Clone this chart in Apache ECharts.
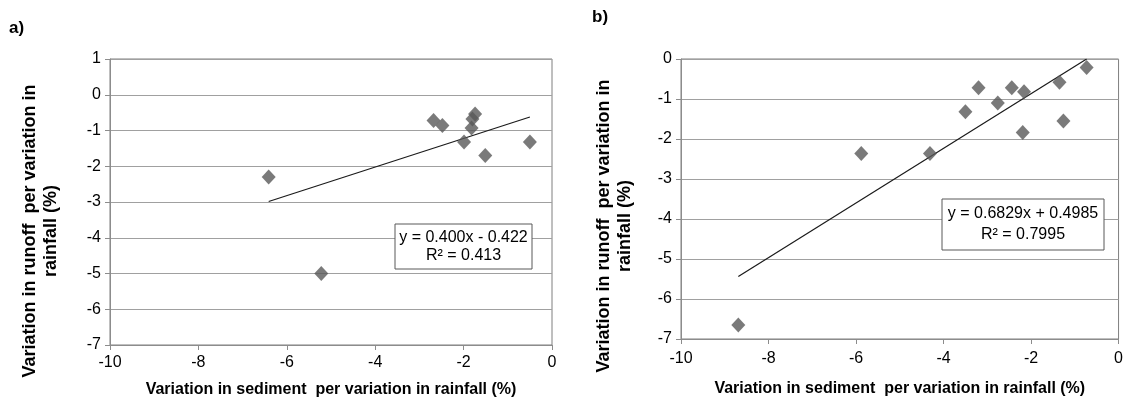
<!DOCTYPE html>
<html>
<head>
<meta charset="utf-8">
<script src="https://cdn.jsdelivr.net/npm/echarts@6/dist/echarts.min.js"></script>
<style>
  html, body { margin: 0; padding: 0; background: #fff; }
  #main { width: 1126px; height: 403px; }
</style>
</head>
<body>
<div id="main"></div>
<script>
// panel a) values
var sedimentA = [-6.41, -5.22, -2.68, -2.48, -1.99, -1.82, -1.80, -1.74, -1.51, -0.50];
var runoffA = [-2.30, -5.00, -0.72, -0.86, -1.32, -0.93, -0.68, -0.54, -1.70, -1.32];
var trendA = [0.400, -0.422]; // slope, intercept
var eqTextA = ['y = 0.400x - 0.422', 'R\u00b2 = 0.413'];

// panel b)
var sedimentB = [-8.69, -5.88, -4.31, -3.50, -3.20, -2.76, -2.44, -2.16, -2.19, -1.35, -1.26, -0.73];
var runoffB = [-6.65, -2.36, -2.36, -1.32, -0.72, -1.10, -0.72, -0.82, -1.84, -0.58, -1.55, -0.21];
var trendB = [0.6829, 0.4985];
var eqTextB = ['y = 0.6829x + 0.4985', 'R\u00b2 = 0.7995'];

var xTitle = 'Variation in sediment  per variation in rainfall (%)';
var yTitle = ['Variation in runoff  per variation in', 'rainfall (%)'];

var narrow = '"Liberation Sans Narrow", "Arial Narrow", "Liberation Sans", Arial, sans-serif';
var wide = '"Liberation Sans", Arial, sans-serif';

function pairs(xs, ys) {
  var out = [];
  for (var i = 0; i < xs.length; i++) out.push([xs[i], ys[i]]);
  return out;
}

function trendLine(xs, coef) {
  var lo = Math.min.apply(null, xs);
  var hi = Math.max.apply(null, xs);
  return [[lo, coef[0] * lo + coef[1]], [hi, coef[0] * hi + coef[1]]];
}

function xAxisOf(idx, gap, margin) {
  return {
    gridIndex: idx, type: 'value', min: -10, max: 0, interval: 2,
    name: xTitle, nameLocation: 'middle', nameGap: gap,
    nameTextStyle: { fontFamily: narrow, fontWeight: 'bold', fontSize: 16, color: '#000' },
    axisLine: { onZero: false, lineStyle: { color: '#8c8c8c', width: 1 } },
    axisTick: { show: true, length: 5, lineStyle: { color: '#8c8c8c' } },
    axisLabel: { fontFamily: narrow, fontSize: 16, color: '#000', margin: margin },
    splitLine: { show: false }
  };
}

function yAxisOf(idx, max) {
  return {
    gridIndex: idx, type: 'value', min: -7, max: max, interval: 1,
    axisLine: { onZero: false, lineStyle: { color: '#8c8c8c', width: 1 } },
    axisTick: { show: true, length: 5, lineStyle: { color: '#8c8c8c' } },
    axisLabel: { fontFamily: narrow, fontSize: 16, color: '#000', margin: 9 },
    splitLine: { show: true, lineStyle: { color: '#a0a0a0', width: 1 } }
  };
}

function eqBox(x, y, w, h, lines, lh) {
  return [
    { type: 'rect', z: 100, shape: { x: x, y: y, width: w, height: h },
      style: { fill: '#fff', stroke: '#595959', lineWidth: 1 } },
    { type: 'text', z: 101, x: x + w / 2, y: y + h / 2,
      style: { text: lines.join('\n'), font: '16px ' + narrow, fill: '#000',
               align: 'center', verticalAlign: 'middle', lineHeight: lh } }
  ];
}

function yTitleText(x, y) {
  return {
    type: 'text', x: x, y: y, rotation: Math.PI / 2,
    style: { text: yTitle.join('\n'), font: 'bold 18px ' + wide, fill: '#000',
             align: 'center', verticalAlign: 'middle', lineHeight: 21 }
  };
}

var diamond = { color: '#595959' };

var chart = echarts.init(document.getElementById('main'), null, { renderer: 'canvas' });
chart.setOption({
  animation: false,
  backgroundColor: '#fff',
  grid: [
    { left: 110, top: 59, right: 574, bottom: 57, show: true, borderColor: '#7f7f7f', borderWidth: 1, backgroundColor: '#fff' },
    { left: 681, top: 59, right: 3, bottom: 64, show: true, borderColor: '#7f7f7f', borderWidth: 1, backgroundColor: '#fff' }
  ],
  xAxis: [xAxisOf(0, 37, 10), xAxisOf(1, 42, 12)],
  yAxis: [yAxisOf(0, 1), yAxisOf(1, 0)],
  graphic: [
    { type: 'text', x: 9, y: 20, style: { text: 'a)', font: 'bold 17px ' + wide, fill: '#000' } },
    { type: 'text', x: 592, y: 9, style: { text: 'b)', font: 'bold 17px ' + wide, fill: '#000' } },
    yTitleText(41, 231),
    yTitleText(615, 226)
  ].concat(eqBox(395, 224, 137, 45, eqTextA, 18), eqBox(942, 199, 162, 51, eqTextB, 21)),
  series: [
    { type: 'line', xAxisIndex: 0, yAxisIndex: 0, data: trendLine(sedimentA, trendA),
      symbol: 'none', lineStyle: { color: '#1a1a1a', width: 1.2 }, z: 3 },
    { type: 'scatter', xAxisIndex: 0, yAxisIndex: 0, data: pairs(sedimentA, runoffA),
      symbol: 'diamond', symbolSize: [14, 15], itemStyle: diamond, z: 4 },
    { type: 'line', xAxisIndex: 1, yAxisIndex: 1, data: trendLine(sedimentB, trendB),
      symbol: 'none', lineStyle: { color: '#1a1a1a', width: 1.2 }, z: 3 },
    { type: 'scatter', xAxisIndex: 1, yAxisIndex: 1, data: pairs(sedimentB, runoffB),
      symbol: 'diamond', symbolSize: [14, 15], itemStyle: diamond, z: 4 }
  ]
});
</script>
</body>
</html>
